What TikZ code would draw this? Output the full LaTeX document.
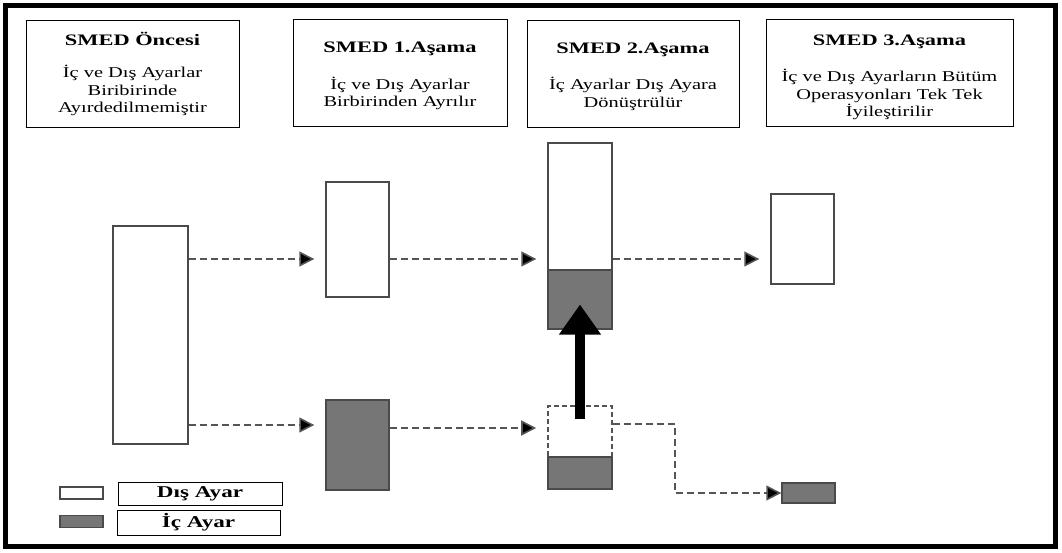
\documentclass[tikz,border=0pt]{standalone}
\usepackage{fontspec}
\setmainfont[FakeStretch=1.4]{Liberation Serif}
\newfontfamily\bodyfont[FakeStretch=1.36]{Liberation Serif}
\usetikzlibrary{arrows.meta}

% title line of a header box, #2 = strut height that lowers the text block
\newcommand\htitle[2]{{\rmfamily\fontsize{16}{19}\selectfont\bfseries\rule{0pt}{#2}#1}}

\begin{document}
\begin{tikzpicture}[x=1pt, y=-1pt,
    headbox/.style={draw=black, line width=1pt, align=center, inner sep=0pt,
        minimum width=#1, minimum height=107pt, font=\bodyfont\fontsize{15}{17.5}\selectfont},
    bar/.style={draw=barBorder, line width=1.4pt, fill=white, inner sep=0pt,
        minimum width=#1},
    innerbar/.style={bar=#1, fill=fillIc},
    dashbox/.style={draw=dashColour, line width=1.6pt, dash pattern=on 5pt off 3pt,
        inner sep=0pt, minimum width=#1},
    flow/.style={draw=dashColour, line width=1.6pt, dash pattern=on 7pt off 4pt,
        -{Triangle[length=15pt,width=15pt,fill=black]}},
    keybox/.style={draw=black, line width=1pt, inner sep=0pt,
        font=\fontsize{16.5}{18}\selectfont\bfseries}
]
    \definecolor{barBorder}{HTML}{4A4A4A}
    \definecolor{fillIc}{HTML}{767676}
    \definecolor{dashColour}{HTML}{555555}

    \def\gap{11pt}

    \useasboundingbox (0,0) rectangle (1062,552);

    % Outer frame
    \draw[line width=5pt] (5.5,5.5) rectangle (1055,546.5);

    % Header boxes
    \node[headbox=213pt] (h0) at (132.5,73.5)
        {\htitle{SMED Öncesi}{14pt}\\[15pt]
         İç ve Dış Ayarlar\\ Biribirinde\\ Ayırdedilmemiştir};
    \node[headbox=214pt] (h1) at (400,72.5)
        {\htitle{SMED 1.Aşama}{18pt}\\[19pt]
         İç ve Dış Ayarlar\\ Birbirinden Ayrılır};
    \node[headbox=212pt] (h2) at (633,73.5)
        {\htitle{SMED 2.Aşama}{17pt}\\[19pt]
         İç Ayarlar Dış Ayara\\ Dönüştrülür};
    \node[headbox=247pt] (h3) at (889.5,72.5)
        {\htitle{SMED 3.Aşama}{20pt}\\[19pt]
         İç ve Dış Ayarların Bütüm\\ Operasyonları Tek Tek\\ İyileştirilir};

    % Bars
    \node[bar=75pt, minimum height=218pt] (pre) at (150.5,335) {};
    \node[bar=63pt, minimum height=115pt] (s1dis) at (357.5,239.5) {};
    \node[innerbar=63pt, minimum height=90pt] (s1ic) at (357.5,445) {};
    \node[bar=64pt, minimum height=127pt] (s2dis) at (580,206.5) {};
    \node[innerbar=64pt, minimum height=59pt] (s2ic) at (580,299.5) {};
    \node[dashbox=64pt, minimum height=51pt] (s2old) at (580,431.5) {};
    \node[innerbar=64pt, minimum height=32pt] (s2rest) at (580,473) {};
    \node[bar=63pt, minimum height=90pt] (s3dis) at (802.5,239) {};
    \node[innerbar=53pt, minimum height=20pt] (s3ic) at (808.5,493) {};

    % Rows of the flow arrows
    \coordinate (rowA) at (0,259);
    \coordinate (rowB) at (0,425);
    \coordinate (rowC) at (0,428);
    \coordinate (bend) at (675,424);

    % Flow arrows
    \draw[flow, shorten >=\gap] (pre.east |- rowA) -- (s1dis.west |- rowA);
    \draw[flow, shorten >=\gap] (pre.east |- rowB) -- (s1ic.west |- rowB);
    \draw[flow, shorten >=\gap] (s1dis.east |- rowA) -- (s2dis.west |- rowA);
    \draw[flow, shorten >=\gap] (s1ic.east |- rowC) -- (s2old.west |- rowC);
    \draw[flow, shorten >=\gap] (s2dis.east |- rowA) -- (s3dis.west |- rowA);
    \draw[flow] (s2old.east |- bend) -- (bend) |- (s3ic.west);

    % Big arrow: internal setup turned external
    \draw[line width=10pt, -{Triangle[length=30pt,width=40pt]}]
        ([yshift=-14pt]s2old.north) -- ([yshift=-5pt]s2ic.center);

    % Legend
    \node[bar=43pt, minimum height=12pt] (keydis) at (81.5,493) {};
    \node[innerbar=43pt, minimum height=12pt] (keyic) at (81.5,521.5) {};
    \node[keybox, minimum width=164pt, minimum height=23pt] (keydistext) at (200,493.5) {Dış Ayar};
    \node[keybox, minimum width=163pt, minimum height=25pt] (keyictext) at (198.5,522.5) {İç Ayar};

\end{tikzpicture}
\end{document}
